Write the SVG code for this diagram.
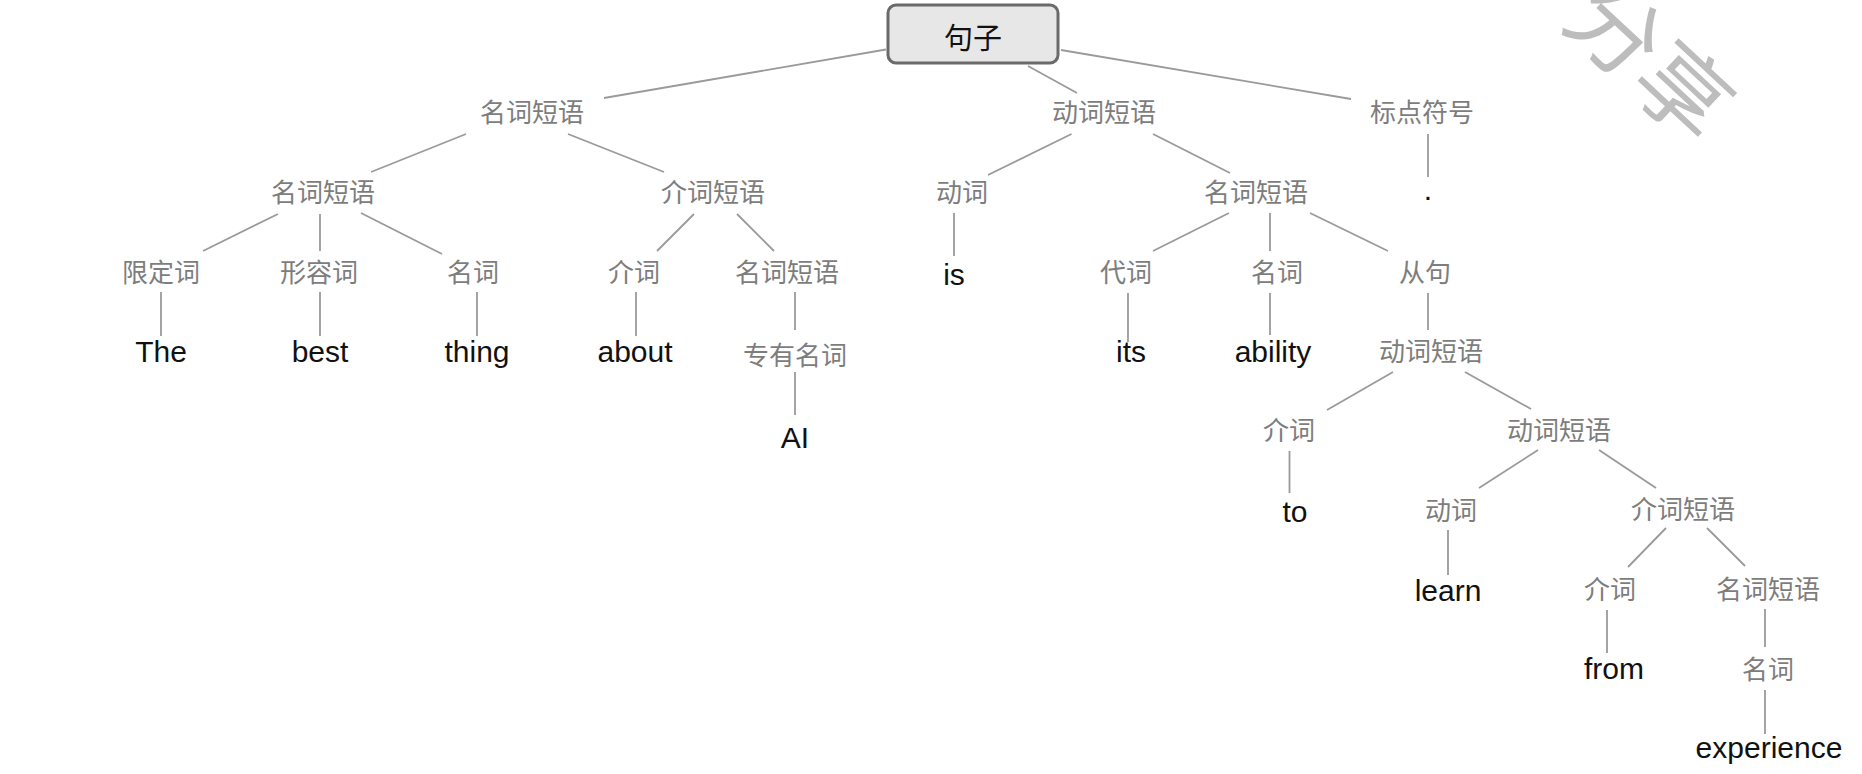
<svg xmlns="http://www.w3.org/2000/svg" width="1862" height="774" viewBox="0 0 1862 774">
<style>
.bg{fill:#ffffff}
.edge{stroke:#9a9a9a;stroke-width:1.8;fill:none}
.lbl{font-family:"Noto Sans CJK SC","Liberation Sans",sans-serif;font-size:26px;fill:#7d7d7d;text-anchor:middle;dominant-baseline:central}
.word{font-family:"Liberation Sans",Arial,sans-serif;font-size:30px;fill:#111111;text-anchor:middle}
.root rect{fill:#e7e7e7;stroke:#6a6a6a;stroke-width:3}
.root text{font-family:"Noto Sans CJK SC","Liberation Sans",sans-serif;font-size:29px;fill:#111111;text-anchor:middle;dominant-baseline:central}
.wm{font-family:"Noto Sans CJK SC",sans-serif;font-size:92px;fill:#bdbdbd;text-anchor:middle;dominant-baseline:central}
</style>
<rect class="bg" x="0" y="0" width="1862" height="774"/>
<g id="watermark" transform="translate(1654.5,55.5) rotate(43)"><text class="wm" x="0" y="0">分享</text></g>
<g id="connectors">
<line class="edge" x1="886" y1="49.5" x2="604" y2="98"/>
<line class="edge" x1="1028" y1="66" x2="1077" y2="93"/>
<line class="edge" x1="1061" y1="50" x2="1351" y2="99"/>
<line class="edge" x1="466" y1="134" x2="371" y2="172"/>
<line class="edge" x1="568" y1="134" x2="664" y2="172"/>
<line class="edge" x1="278" y1="214" x2="203" y2="251"/>
<line class="edge" x1="320" y1="214" x2="320" y2="251"/>
<line class="edge" x1="361" y1="213" x2="442" y2="254"/>
<line class="edge" x1="694" y1="214" x2="657" y2="251"/>
<line class="edge" x1="737" y1="214" x2="774" y2="251"/>
<line class="edge" x1="161" y1="292" x2="161" y2="336"/>
<line class="edge" x1="320" y1="292" x2="320" y2="336"/>
<line class="edge" x1="477" y1="292" x2="477" y2="336"/>
<line class="edge" x1="636" y1="292" x2="636" y2="336"/>
<line class="edge" x1="795" y1="292" x2="795" y2="330"/>
<line class="edge" x1="795" y1="372" x2="795" y2="415"/>
<line class="edge" x1="1071.5" y1="134" x2="988" y2="175"/>
<line class="edge" x1="1153" y1="134" x2="1230" y2="173"/>
<line class="edge" x1="1428" y1="134" x2="1428" y2="177"/>
<line class="edge" x1="954" y1="213" x2="954" y2="256"/>
<line class="edge" x1="1229" y1="213" x2="1153" y2="251"/>
<line class="edge" x1="1270" y1="213" x2="1270" y2="251"/>
<line class="edge" x1="1310" y1="213" x2="1388" y2="251"/>
<line class="edge" x1="1128" y1="293" x2="1128" y2="342"/>
<line class="edge" x1="1270" y1="293" x2="1270" y2="335"/>
<line class="edge" x1="1428" y1="293" x2="1428" y2="330"/>
<line class="edge" x1="1393" y1="372" x2="1327" y2="410"/>
<line class="edge" x1="1465" y1="372" x2="1531" y2="409"/>
<line class="edge" x1="1289.5" y1="451" x2="1289.5" y2="493"/>
<line class="edge" x1="1538" y1="450" x2="1479" y2="488"/>
<line class="edge" x1="1599" y1="450" x2="1656" y2="488"/>
<line class="edge" x1="1448" y1="530" x2="1448" y2="575"/>
<line class="edge" x1="1666" y1="528" x2="1628" y2="567"/>
<line class="edge" x1="1707" y1="528" x2="1745" y2="566"/>
<line class="edge" x1="1607" y1="610" x2="1607" y2="653"/>
<line class="edge" x1="1765" y1="609" x2="1765" y2="647"/>
<line class="edge" x1="1765" y1="690" x2="1765" y2="734"/>
</g>
<g id="n-root" class="root"><rect x="888" y="5" width="170" height="58" rx="8"/><text x="973" y="36">句子</text></g>
<g id="n-np1"><text class="lbl" x="532" y="110">名词短语</text></g>
<g id="n-vp1"><text class="lbl" x="1104" y="110">动词短语</text></g>
<g id="n-punct"><text class="lbl" x="1422" y="110">标点符号</text></g>
<g id="n-np2"><text class="lbl" x="323" y="190">名词短语</text></g>
<g id="n-pp1"><text class="lbl" x="713" y="190">介词短语</text></g>
<g id="n-v1"><text class="lbl" x="962" y="190">动词</text></g>
<g id="n-np3"><text class="lbl" x="1256" y="190">名词短语</text></g>
<g id="n-period"><text class="word" x="1428" y="200">.</text></g>
<g id="n-det"><text class="lbl" x="161" y="270">限定词</text></g>
<g id="n-adj"><text class="lbl" x="319" y="270">形容词</text></g>
<g id="n-n1"><text class="lbl" x="473" y="270">名词</text></g>
<g id="n-p1"><text class="lbl" x="634" y="270">介词</text></g>
<g id="n-np4"><text class="lbl" x="787" y="270">名词短语</text></g>
<g id="n-is"><text class="word" x="954" y="285">is</text></g>
<g id="n-pron"><text class="lbl" x="1126" y="270">代词</text></g>
<g id="n-n2"><text class="lbl" x="1277" y="270">名词</text></g>
<g id="n-clause"><text class="lbl" x="1425" y="270">从句</text></g>
<g id="n-the"><text class="word" x="161" y="362">The</text></g>
<g id="n-best"><text class="word" x="320" y="362">best</text></g>
<g id="n-thing"><text class="word" x="477" y="362">thing</text></g>
<g id="n-about"><text class="word" x="635" y="362">about</text></g>
<g id="n-propn"><text class="lbl" x="795" y="353">专有名词</text></g>
<g id="n-its"><text class="word" x="1131" y="362">its</text></g>
<g id="n-ability"><text class="word" x="1273" y="362">ability</text></g>
<g id="n-vp2"><text class="lbl" x="1431" y="349">动词短语</text></g>
<g id="n-ai"><text class="word" x="795" y="448">AI</text></g>
<g id="n-p2"><text class="lbl" x="1289" y="428">介词</text></g>
<g id="n-vp3"><text class="lbl" x="1559" y="428">动词短语</text></g>
<g id="n-to"><text class="word" x="1295" y="522">to</text></g>
<g id="n-v2"><text class="lbl" x="1451" y="508">动词</text></g>
<g id="n-pp2"><text class="lbl" x="1683" y="507">介词短语</text></g>
<g id="n-learn"><text class="word" x="1448" y="601">learn</text></g>
<g id="n-p3"><text class="lbl" x="1610" y="587">介词</text></g>
<g id="n-np5"><text class="lbl" x="1768" y="587">名词短语</text></g>
<g id="n-from"><text class="word" x="1614" y="679">from</text></g>
<g id="n-n3"><text class="lbl" x="1768" y="667">名词</text></g>
<g id="n-exp"><text class="word" x="1769" y="758">experience</text></g>
</svg>
